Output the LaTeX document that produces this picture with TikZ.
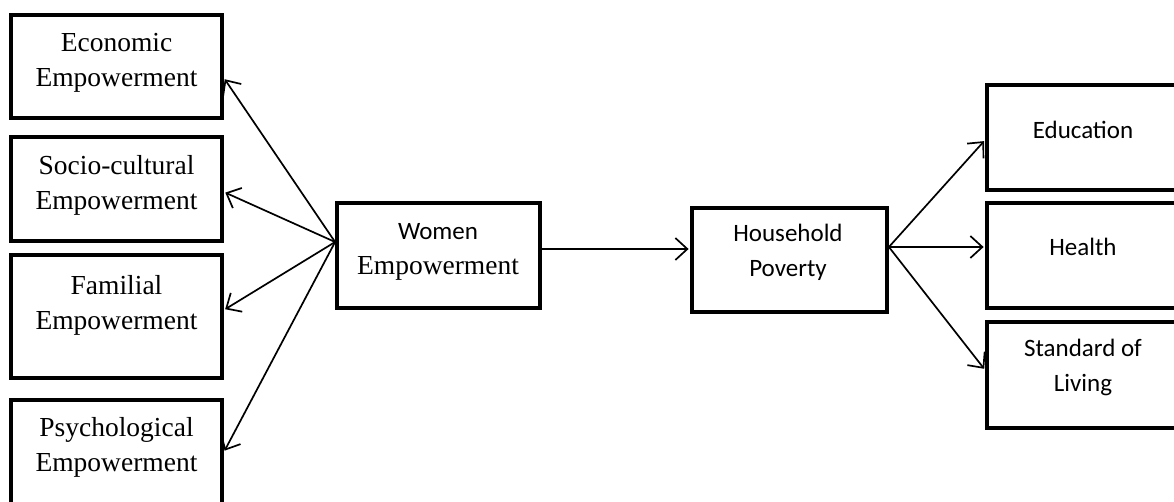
\documentclass[tikz,border=0pt]{standalone}
\usepackage{fontspec}
\setmainfont{Liberation Serif}
\newfontfamily\calib{Carlito}
\usetikzlibrary{arrows.meta}
\tikzset{
  box/.style={draw=black, line width=3.8pt, rectangle, inner sep=0pt, fill=white},
  serifl/.style={align=center, inner sep=0pt, font=\fontsize{27.5}{35}\selectfont},
  sansl/.style={align=center, inner sep=0pt, font=\calib\fontsize{25}{35}\selectfont},
  conn/.style={line width=1.7pt, shorten >=1.5pt, -{Straight Barb[length=12pt, width=22pt, line width=1.7pt]}},
}
\begin{document}
\begin{tikzpicture}[x=1pt, y=-1pt]
\clip (0,0) rectangle (1174,502);
\fill[white] (0,0) rectangle (1174,502);
% left boxes
\node[box, minimum width=211pt, minimum height=103pt] (econ) at (116.5,66.5) {};
\node[box, minimum width=211pt, minimum height=104pt] (soc) at (116.5,189) {};
\node[box, minimum width=211pt, minimum height=123pt] (fam) at (116.5,316.5) {};
\node[box, minimum width=211pt, minimum height=130pt] (psy) at (116.5,465) {};
% centre boxes
\node[box, minimum width=203pt, minimum height=105pt] (wom) at (438.5,255.5) {};
\node[box, minimum width=195pt, minimum height=104pt] (hh) at (789.5,260) {};
% right boxes
\node[box, minimum width=213pt, minimum height=105pt] (edu) at (1093.5,137.5) {};
\node[box, minimum width=213pt, minimum height=105pt] (hea) at (1093.5,255.5) {};
\node[box, minimum width=213pt, minimum height=106pt] (sol) at (1093.5,375) {};
% texts
\node[serifl] (econt) at (116.5,63) {Economic\\Empowerment};
\node[serifl] (soct) at (116.5,185) {Socio-cultural\\Empowerment};
\node[serifl] (famt) at (116.5,305) {Familial\\Empowerment};
\node[serifl] (psyt) at (116.5,447.5) {Psychological\\Empowerment};
\node[sansl] (womt1) at (438,232) {Women};
\node[serifl] (womt2) at (438,268) {Empowerment};
\node[sansl] (hht) at (788,252.5) {Household\\Poverty};
\node[sansl] (edut) at (1083,130) {Education};
\node[sansl] (heat) at (1083,247) {Health};
\node[sansl] (solt) at (1083,367.5) {Standard of\\Living};
% connectors
\coordinate (src) at ([yshift=13.5pt]wom.west);
\draw[conn] (src) -- ([yshift=-11.5pt]econ.east);
\draw[conn] (src) -- ([yshift=-3pt]soc.east);
\draw[conn] (src) -- ([yshift=6.5pt]fam.east);
\draw[conn] (src) -- ([yshift=13pt]psy.east);
\draw[conn] ([yshift=6.5pt]wom.east) -- ([yshift=11pt]hh.west);
\coordinate (hsrc) at ([yshift=13pt]hh.east);
\draw[conn] (hsrc) -- ([yshift=-2.5pt]edu.west);
\draw[conn] (hsrc) -- ([yshift=8.5pt]hea.west);
\draw[conn] (hsrc) -- ([yshift=5pt]sol.west);
\end{tikzpicture}
\end{document}
